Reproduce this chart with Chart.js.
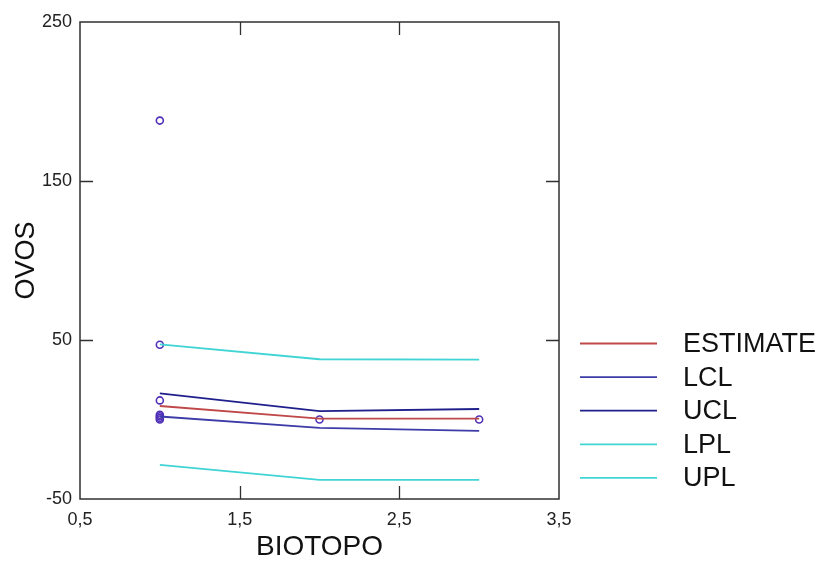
<!DOCTYPE html>
<html>
<head>
<meta charset="utf-8">
<script src="https://cdn.jsdelivr.net/npm/chart.js@4/dist/chart.umd.min.js"></script>
<style>
html,body{margin:0;padding:0;background:#fff;}
#wrap{width:828px;height:561px;position:relative;}
</style>
</head>
<body>
<div id="wrap"><canvas id="c" width="828" height="561"></canvas></div>
<script>
// ---- data ----
const groupX = [1, 2, 3];
const estimate = [8.5, 0.5, 0.5];
const lcl = [1.9, -5.3, -7.2];
const ucl = [16.4, 5.3, 6.6];
const lpl = [-28.6, -38, -38];
const upl = [47.2, 37.9, 37.6];
const obsX = [1, 1, 1, 1, 1, 1, 1, 2, 3];
const obsY = [188, 47, 12, 3, 2, 1, 0, 0, 0];
const xTicks = [0.5, 1.5, 2.5, 3.5];
const yTicks = [-50, 50, 150, 250];
const seriesNames = ['ESTIMATE', 'LCL', 'UCL', 'LPL', 'UPL'];
const seriesColors = ['#c04848', '#3c3ca8', '#20208c', '#40d4d4', '#40d4d4'];

const lineSeries = [estimate, lcl, ucl, lpl, upl];
const pts = (ys) => groupX.map((x, i) => ({x, y: ys[i]}));

const datasets = lineSeries.map((ys, i) => ({
  label: seriesNames[i],
  data: pts(ys),
  showLine: true,
  borderColor: seriesColors[i],
  backgroundColor: seriesColors[i],
  borderWidth: 1.8,
  pointRadius: 0,
  tension: 0,
  isSeries: true
}));
datasets.push({
  label: 'obs',
  data: obsX.map((x, i) => ({x, y: obsY[i]})),
  showLine: false,
  pointStyle: 'circle',
  pointRadius: 3.5,
  borderWidth: 1.6,
  borderColor: '#5030b8',
  backgroundColor: 'rgba(0,0,0,0)',
  isSeries: false
});

const fmt = v => String(v).replace('.', ',');

const framePlugin = {
  id: 'frame',
  afterDraw(chart) {
    const {ctx, chartArea: a, scales} = chart;
    ctx.save();
    ctx.strokeStyle = '#303030';
    ctx.lineWidth = 1.5;
    ctx.strokeRect(a.left, a.top, a.right - a.left, a.bottom - a.top);
    ctx.lineWidth = 1.3;
    ctx.beginPath();
    const tl = 13;
    xTicks.slice(1, -1).forEach(v => {
      const px = Math.round(scales.x.getPixelForValue(v)) + 0.5;
      ctx.moveTo(px, a.top); ctx.lineTo(px, a.top + tl);
      ctx.moveTo(px, a.bottom); ctx.lineTo(px, a.bottom - tl);
    });
    yTicks.slice(1, -1).forEach(v => {
      const py = Math.round(scales.y.getPixelForValue(v)) + 0.5;
      ctx.moveTo(a.left, py); ctx.lineTo(a.left + tl, py);
      ctx.moveTo(a.right, py); ctx.lineTo(a.right - tl, py);
    });
    ctx.stroke();

    // legend
    ctx.font = '27px "Liberation Sans", Arial, sans-serif';
    ctx.textBaseline = 'middle';
    ctx.fillStyle = '#111';
    let i = 0;
    chart.data.datasets.forEach(ds => {
      if (!ds.isSeries) return;
      const y = 343.5 + i * 33.6;
      ctx.strokeStyle = ds.borderColor;
      ctx.lineWidth = 1.8;
      ctx.beginPath();
      ctx.moveTo(580, y); ctx.lineTo(657, y);
      ctx.stroke();
      ctx.fillText(ds.label, 683, y + 1);
      i++;
    });
    ctx.restore();
  }
};

new Chart(document.getElementById('c'), {
  type: 'scatter',
  data: {datasets},
  options: {
    responsive: false,
    animation: false,
    devicePixelRatio: 1,
    layout: {padding: {left: 0, top: 22, right: 269, bottom: 0}},
    plugins: {legend: {display: false}, tooltip: {enabled: false}},
    scales: {
      x: {
        type: 'linear',
        min: 0.5, max: 3.5,
        afterBuildTicks: s => { s.ticks = xTicks.map(v => ({value: v})); },
        afterFit: s => { s.height = 62; },
        grid: {display: false, drawTicks: false},
        border: {display: false},
        ticks: {
          padding: 10,
          color: '#222',
          font: {family: '"Liberation Sans", Arial, sans-serif', size: 18},
          callback: v => fmt(v),
          maxRotation: 0,
          autoSkip: false
        },
        title: {
          display: true, text: 'BIOTOPO', color: '#111',
          font: {family: '"Liberation Sans", Arial, sans-serif', size: 28, lineHeight: 1},
          padding: {top: 0, bottom: 0}
        }
      },
      y: {
        type: 'linear',
        min: -50, max: 250,
        afterBuildTicks: s => { s.ticks = yTicks.map(v => ({value: v})); },
        afterFit: s => { s.width = 80; },
        grid: {display: false, drawTicks: false},
        border: {display: false},
        ticks: {
          padding: 8,
          color: '#222',
          font: {family: '"Liberation Sans", Arial, sans-serif', size: 18},
          callback: v => fmt(v),
          autoSkip: false
        },
        title: {
          display: true, text: 'OVOS', color: '#111',
          font: {family: '"Liberation Sans", Arial, sans-serif', size: 27, lineHeight: 1},
          padding: {top: 13, bottom: 0}
        }
      }
    }
  },
  plugins: [framePlugin]
});
</script>
</body>
</html>
